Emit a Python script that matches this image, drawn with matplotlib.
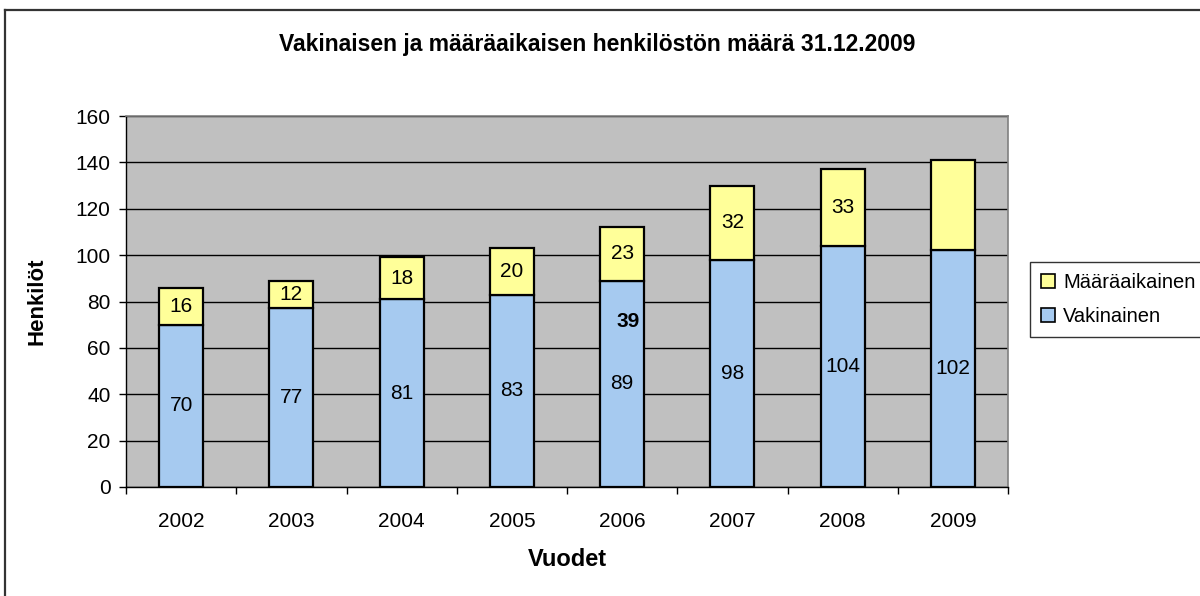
import matplotlib as mpl

mpl.use("Agg")
import matplotlib.pyplot as plt
import numpy as np
from matplotlib.lines import Line2D
from matplotlib.patches import Patch

years = ["2002", "2003", "2004", "2005", "2006", "2007", "2008", "2009"]
vakinainen = [70, 77, 81, 83, 89, 98, 104, 102]
maaraaikainen = [16, 12, 18, 20, 23, 32, 33, 39]
# the 2009 fixed-term label sits misplaced inside the 2006 bar in the original
stray_label = "39"
stray_pos = (4.05, 71.5)

plt.rcParams["font.family"] = ["Liberation Sans", "DejaVu Sans"]

blue = "#A6CAF0"
yellow = "#FFFF99"
plot_bg = "#C0C0C0"

fig = plt.figure(figsize=(12.0, 5.96), dpi=100)
ax = fig.add_axes([126 / 1200, 109 / 596, 882 / 1200, 371 / 596])
ax.set_facecolor(plot_bg)

x = np.arange(len(years))
bar_kw = {"width": 0.4, "edgecolor": "black", "linewidth": 1.6, "zorder": 3}
b1 = ax.bar(x, vakinainen, color=blue, **bar_kw)
b2 = ax.bar(x, maaraaikainen, bottom=vakinainen, color=yellow, **bar_kw)

ax.bar_label(b1, labels=[str(v) for v in vakinainen], label_type="center", fontsize=15, zorder=4)
top_labels = [str(v) for v in maaraaikainen[:-1]] + [""]
ax.bar_label(b2, labels=top_labels, label_type="center", fontsize=15, zorder=4)
ax.text(*stray_pos, stray_label, ha="center", va="center", fontsize=15,
        fontweight="bold", zorder=4)

ax.set_xlim(-0.5, len(years) - 0.5)
ax.set_ylim(0, 160)
ax.set_yticks(np.arange(0, 161, 20))
ax.yaxis.grid(True, color="black", linewidth=1.0, zorder=1)
ax.set_axisbelow(True)

ax.set_xticks(x)
ax.set_xticklabels(years, fontsize=15)
ax.set_xticks(np.arange(-0.5, len(years)), minor=True)
ax.tick_params(axis="x", which="major", length=0, pad=18)
ax.tick_params(axis="x", which="minor", length=5, width=1, color="black", direction="out")
ax.tick_params(axis="y", labelsize=15, length=5, width=1, direction="out", pad=6)

for side in ("top", "right"):
    ax.spines[side].set_color("#808080")
    ax.spines[side].set_linewidth(1.2)
for side in ("left", "bottom"):
    ax.spines[side].set_color("black")
    ax.spines[side].set_linewidth(1.0)

ax.set_ylabel("Henkilöt", fontsize=16, fontweight="bold", labelpad=20)
ax.set_xlabel("Vuodet", fontsize=17, fontweight="bold", labelpad=12)

fig.text(597 / 1200, 1 - 44 / 596,
         "Vakinaisen ja määräaikaisen henkilöstön määrä 31.12.2009",
         ha="center", va="center", fontsize=16.5, fontweight="bold")

handles = [
    Patch(facecolor=yellow, edgecolor="black", linewidth=1.2, label="Määräaikainen"),
    Patch(facecolor=blue, edgecolor="black", linewidth=1.2, label="Vakinainen"),
]
leg = fig.legend(handles=handles, loc="upper left",
                 bbox_to_anchor=(1030 / 1200, 1 - 262 / 596),
                 fontsize=14.5, frameon=True, fancybox=False,
                 handlelength=0.7, handleheight=0.7, handletextpad=0.4,
                 borderpad=0.55, labelspacing=0.75, borderaxespad=0)
leg.get_frame().set_edgecolor("black")
leg.get_frame().set_linewidth(1.0)

# outer chart frame, running off the right and bottom edges
fig.add_artist(Line2D([5 / 1200, 5 / 1200], [1 - 10 / 596, -0.05],
                      transform=fig.transFigure, color="#333333", linewidth=1.6))
fig.add_artist(Line2D([5 / 1200, 1.05], [1 - 10 / 596, 1 - 10 / 596],
                      transform=fig.transFigure, color="#333333", linewidth=1.6))

fig.savefig("out.png", dpi=100)
